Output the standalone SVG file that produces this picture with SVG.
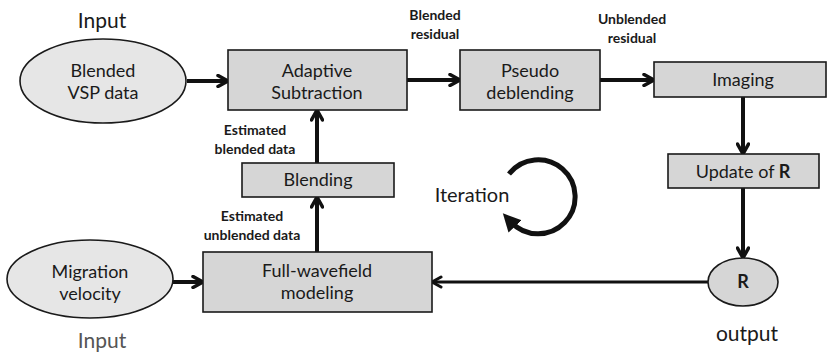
<svg xmlns="http://www.w3.org/2000/svg" width="828" height="354" viewBox="0 0 828 354">
<style>
.box{fill:#d6d6d6;stroke:#1a1a1a;stroke-width:1.6}
.ell{fill:#e6e6e6;stroke:#1a1a1a;stroke-width:1.6}
.t{font-family:Lato,"Open Sans",sans-serif;font-size:18px;fill:#1a1a1a;text-anchor:middle}
.s{font-family:Lato,"Open Sans",sans-serif;font-size:14px;font-weight:bold;fill:#1a1a1a;text-anchor:middle}
.big{font-family:Lato,"Open Sans",sans-serif;font-size:21px;fill:#1a1a1a;text-anchor:middle}
.c{fill:none;stroke:#111;stroke-width:4}
</style>
<defs>
<marker id="ah" viewBox="0 0 14 14" markerWidth="14" markerHeight="14" markerUnits="userSpaceOnUse" refX="10" refY="7" orient="auto">
<path d="M2,1.5 L12,7 L2,12.5" fill="none" stroke="#111" stroke-width="3.5" stroke-linecap="round" stroke-linejoin="round"/>
</marker>
<marker id="ahs" viewBox="0 0 14 14" markerWidth="14" markerHeight="14" markerUnits="userSpaceOnUse" refX="10" refY="7" orient="auto">
<path d="M3,2 L12,7 L3,12" fill="none" stroke="#111" stroke-width="3" stroke-linecap="round" stroke-linejoin="round"/>
</marker>
<marker id="tri" viewBox="0 0 18 18" markerWidth="18" markerHeight="18" markerUnits="userSpaceOnUse" refX="6" refY="9" orient="auto">
<path d="M0,0 L18,9 L0,18 Z" fill="#111"/>
</marker>
</defs>

<g id="connectors">
<line class="c" x1="187" y1="81" x2="226" y2="81" marker-end="url(#ah)"/>
<line class="c" x1="407" y1="80" x2="458" y2="80" marker-end="url(#ah)"/>
<line class="c" x1="600" y1="80" x2="652" y2="80" marker-end="url(#ah)"/>
<line class="c" x1="743" y1="97" x2="743" y2="152" marker-end="url(#ah)"/>
<line class="c" x1="743" y1="188" x2="743" y2="256" marker-end="url(#ah)"/>
<line class="c" style="stroke-width:3" x1="708" y1="282" x2="434" y2="282" marker-end="url(#ahs)"/>
<line class="c" x1="173" y1="282" x2="201" y2="282" marker-end="url(#ah)"/>
<line class="c" x1="317" y1="252" x2="317" y2="199" marker-end="url(#ah)"/>
<line class="c" x1="317" y1="163" x2="317" y2="112" marker-end="url(#ah)"/>
</g>

<g id="iteration">
<path d="M509,174 A37,37 0 1 1 511,222" fill="none" stroke="#111" stroke-width="5" marker-end="url(#tri)"/>
<text class="big" style="font-size:20px" x="472" y="202">Iteration</text>
</g>

<g id="blended-vsp">
<ellipse class="ell" cx="103" cy="81" rx="83" ry="42"/>
<text class="t" x="103" y="77">Blended</text>
<text class="t" x="103" y="99">VSP data</text>
</g>
<text class="big" x="102" y="28">Input</text>

<g id="adaptive-subtraction">
<rect class="box" x="228" y="50" width="179" height="60"/>
<text class="t" x="317" y="77">Adaptive</text>
<text class="t" x="317" y="99">Subtraction</text>
</g>

<g id="pseudo-deblending">
<rect class="box" x="460" y="50" width="140" height="60"/>
<text class="t" x="530" y="77">Pseudo</text>
<text class="t" x="530" y="99">deblending</text>
</g>

<g id="imaging">
<rect class="box" x="654" y="62" width="172" height="35"/>
<text class="t" x="743" y="86">Imaging</text>
</g>

<g id="update-r">
<rect class="box" x="668" y="154" width="151" height="34"/>
<text class="t" x="743" y="178">Update of <tspan font-weight="bold">R</tspan></text>
</g>

<g id="r-output">
<ellipse class="ell" style="fill:#d6d6d6" cx="743" cy="282" rx="35" ry="24"/>
<text class="t" font-weight="bold" x="743" y="288">R</text>
</g>
<text class="big" x="747" y="341">output</text>

<g id="blending">
<rect class="box" x="242" y="163" width="152" height="34"/>
<text class="t" x="318" y="186">Blending</text>
</g>

<g id="full-wavefield">
<rect class="box" x="203" y="252" width="229" height="60"/>
<text class="t" x="317" y="277">Full-wavefield</text>
<text class="t" x="317" y="299">modeling</text>
</g>

<g id="migration-velocity">
<ellipse class="ell" cx="90" cy="279" rx="83" ry="39"/>
<text class="t" x="90" y="278">Migration</text>
<text class="t" x="90" y="300">velocity</text>
</g>
<text class="big" style="fill:#555" x="102" y="348">Input</text>

<text class="s" x="255" y="135">Estimated</text>
<text class="s" x="255" y="154">blended data</text>
<text class="s" x="252" y="221">Estimated</text>
<text class="s" x="252" y="240">unblended data</text>
<text class="s" x="435" y="20">Blended</text>
<text class="s" x="435" y="39">residual</text>
<text class="s" x="632" y="24">Unblended</text>
<text class="s" x="632" y="43">residual</text>
</svg>
